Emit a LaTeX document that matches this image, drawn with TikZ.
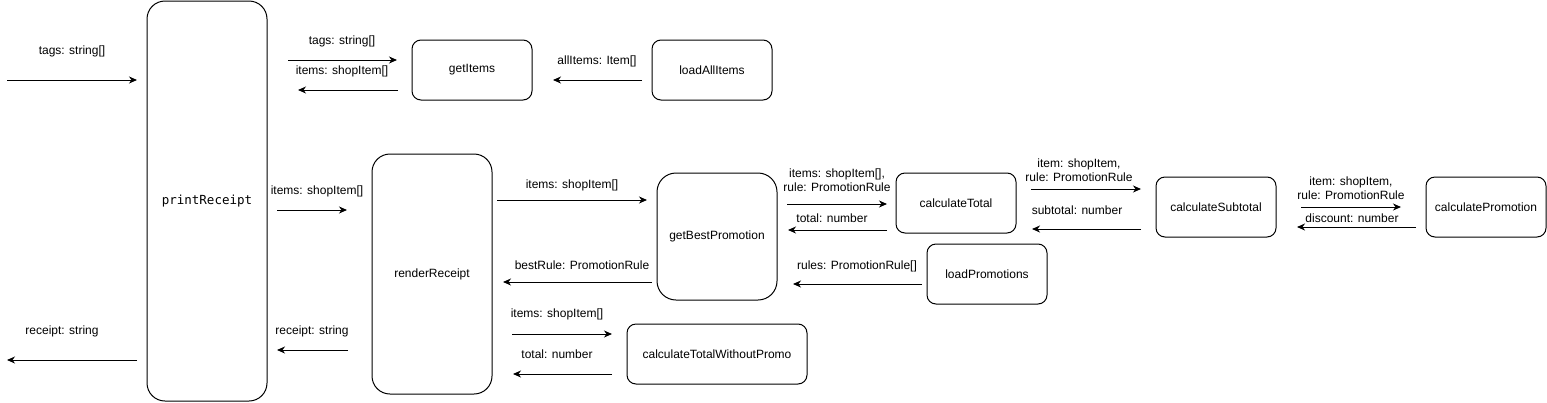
\documentclass[tikz,border=0pt]{standalone}
\usepackage{fontspec}
\setmainfont{Liberation Sans}
\newfontfamily\monof{DejaVu Sans Mono}
\usetikzlibrary{arrows.meta}
\begin{document}
\begin{tikzpicture}[x=1pt,y=-1pt, line width=1pt,
  font=\fontsize{12}{14}\selectfont,
  box/.style={draw, rounded corners=9pt, inner sep=0pt, align=center, minimum width=120pt, minimum height=60pt},
  arr/.style={-{Stealth[length=8pt,width=7pt,inset=2.5pt]}},
  lbl/.style={inner sep=0pt, align=center, font=\fontsize{12}{14}\selectfont}]
\useasboundingbox (0,0) rectangle (1547,402);

% boxes
\node[box, minimum height=400pt, rounded corners=18pt, font=\monof\fontsize{12.5}{14}\selectfont] (pr) at (207,201) {printReceipt};
\node[box] (gi) at (472,70) {getItems};
\node[box] (lai) at (712,70) {loadAllItems};
\node[box, minimum height=240pt, rounded corners=18pt] (rr) at (432,274) {renderReceipt};
\node[box, minimum height=127pt, rounded corners=19pt] (gbp) at (717,236.5) {getBestPromotion};
\node[box] (ct) at (956,203) {calculateTotal};
\node[box] (cs) at (1216,207) {calculateSubtotal};
\node[box] (cp) at (1486,207) {calculatePromotion};
\node[box] (lp) at (987,274) {loadPromotions};
\node[box, minimum width=180pt] (ctw) at (717,354) {calculateTotalWithoutPromo};

% free connector ends
\coordinate (a1s) at (7,80);     \coordinate (a1e) at (137,80);
\coordinate (a2s) at (137,360);  \coordinate (a2e) at (7,360);
\coordinate (a3s) at (288,60);   \coordinate (a3e) at (397,60);
\coordinate (a4s) at (398,90);   \coordinate (a4e) at (298,90);
\coordinate (a5s) at (642,80);   \coordinate (a5e) at (553,80);
\coordinate (a6s) at (277,210);  \coordinate (a6e) at (347,210);
\coordinate (a7s) at (348,350);  \coordinate (a7e) at (277,350);
\coordinate (a8s) at (497,200);  \coordinate (a8e) at (647,200);
\coordinate (a9s) at (652,282);  \coordinate (a9e) at (503,282);
\coordinate (a10s) at (512,334); \coordinate (a10e) at (612,334);
\coordinate (a11s) at (612,374); \coordinate (a11e) at (513,374);
\coordinate (a12s) at (787,204); \coordinate (a12e) at (887,204);
\coordinate (a13s) at (887,230); \coordinate (a13e) at (788,230);
\coordinate (a14s) at (922,284); \coordinate (a14e) at (793,284);
\coordinate (a15s) at (1031,189); \coordinate (a15e) at (1141,189);
\coordinate (a16s) at (1141,229); \coordinate (a16e) at (1032,229);
\coordinate (a17s) at (1301,207); \coordinate (a17e) at (1401,207);
\coordinate (a18s) at (1416,227); \coordinate (a18e) at (1297,227);

\foreach \i in {1,...,18} {\draw[arr] (a\i s) -- (a\i e);}

% labels
\node[lbl] (l1) at (72,51) {tags: string[]};
\node[lbl] (l2) at (62,331) {receipt: string};
\node[lbl] (l3) at (342,41) {tags: string[]};
\node[lbl] (l4) at (342,71) {items: shopItem[]};
\node[lbl] (l5) at (597,61) {allItems: Item[]};
\node[lbl] (l6) at (317,191) {items: shopItem[]};
\node[lbl] (l7) at (312,331) {receipt: string};
\node[lbl] (l8) at (572,185) {items: shopItem[]};
\node[lbl] (l9) at (582,265) {bestRule: PromotionRule};
\node[lbl] (l10) at (557,314) {items: shopItem[]};
\node[lbl] (l11) at (557,354) {total: number};
\node[lbl, font=\fontsize{12}{13.5}\selectfont] (l12) at (837,180) {items: shopItem[],\\rule: PromotionRule};
\node[lbl] (l13) at (832,218) {total: number};
\node[lbl] (l14) at (857,266) {rules: PromotionRule[]};
\node[lbl, font=\fontsize{12}{13.5}\selectfont] (l15) at (1079,170) {item: shopItem,\\rule: PromotionRule};
\node[lbl] (l16) at (1077,210) {subtotal: number};
\node[lbl, font=\fontsize{12}{13.5}\selectfont] (l17) at (1351,188) {item: shopItem,\\rule: PromotionRule};
\node[lbl] (l18) at (1352,218) {discount: number};
\end{tikzpicture}
\end{document}
